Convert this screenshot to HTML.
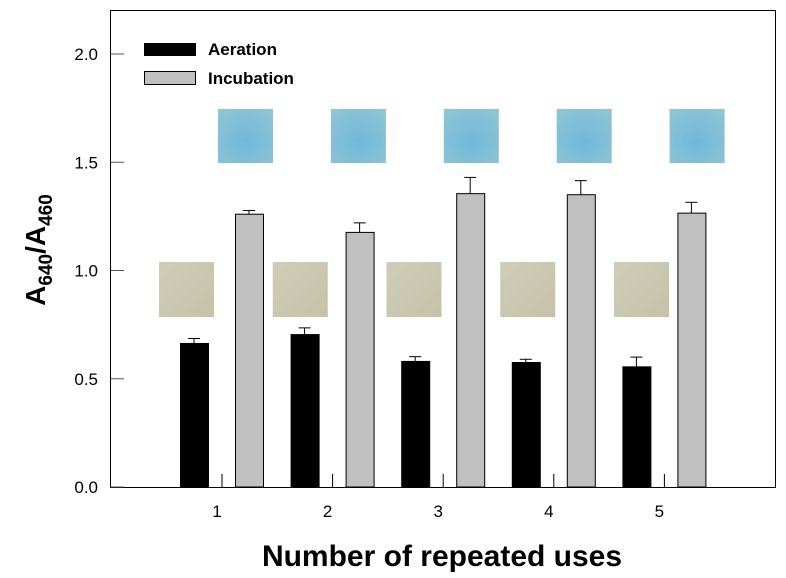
<!DOCTYPE html>
<html><head><meta charset="utf-8">
<style>
body{margin:0;background:#fff;}
svg{display:block;font-family:"Liberation Sans",Arial,sans-serif;}
</style></head>
<body>
<svg id="chart" width="786" height="578" viewBox="0 0 786 578" xmlns="http://www.w3.org/2000/svg">
<defs>
<linearGradient id="tan" x1="0" y1="0" x2="1" y2="1"><stop offset="0" stop-color="#cfcdb8"/><stop offset="1" stop-color="#c6c2a8"/></linearGradient>
<radialGradient id="blue" cx="0.5" cy="0.6" r="0.7"><stop offset="0" stop-color="#70b8d8"/><stop offset="1" stop-color="#8ec4d6"/></radialGradient>
</defs>
<rect x="110.5" y="10.5" width="665" height="477" fill="none" stroke="#000" stroke-width="1"/>
<g id="yaxis"></g>
<g id="xaxis"></g>
<g id="photos"></g>
<g id="bars"></g>
<text transform="translate(45,250) rotate(-90)" text-anchor="middle" font-size="28" font-weight="bold">A<tspan font-size="19" dy="7">640</tspan><tspan dy="-7">/A</tspan><tspan font-size="19" dy="7">460</tspan></text>
<text x="442" y="566" text-anchor="middle" font-size="30" font-weight="bold">Number of repeated uses</text>
<g>
<rect x="144.5" y="43.5" width="51" height="12" fill="#000" stroke="#000"/>
<text x="208" y="55" font-size="17" font-weight="bold">Aeration</text>
<rect x="144.5" y="71.5" width="51" height="13" fill="#c0c0c0" stroke="#000"/>
<text x="208" y="84" font-size="17" font-weight="bold">Incubation</text>
</g>
</svg>
<script>
const categories = ["1","2","3","4","5"];
const aeration = [0.663, 0.704, 0.580, 0.575, 0.555];
const aerationErr = [0.023, 0.031, 0.022, 0.015, 0.045];
const incubation = [1.260, 1.176, 1.355, 1.350, 1.265];
const incubationErr = [0.017, 0.044, 0.075, 0.065, 0.050];
const yTicks = [0, 0.5, 1.0, 1.5, 2.0];
const yTickLabels = ["0.0","0.5","1.0","1.5","2.0"];

const NS = "http://www.w3.org/2000/svg";
const y = v => 487 - v * 216.5;
const x = i => 222 + i * 110.6;
function mk(tag, attrs, parent){const e=document.createElementNS(NS,tag);for(const k in attrs)e.setAttribute(k,attrs[k]);parent.appendChild(e);return e;}
const yg=document.getElementById('yaxis'), xg=document.getElementById('xaxis'), bg=document.getElementById('bars'), pg=document.getElementById('photos');
yTicks.forEach((t,i)=>{
  const l=mk('line',{x1:110.5,x2:124,y1:y(t),y2:y(t),stroke:'#555','stroke-width':1},yg);
  
  
  const tx=mk('text',{x:98,y:y(t)+6,'text-anchor':'end','font-size':17},yg);
  tx.textContent=yTickLabels[i];
  
  
});
categories.forEach((c,i)=>{
  const cx=x(i);
  const l=mk('line',{x1:cx,x2:cx,y1:487,y2:474,stroke:'#000','stroke-width':1},xg);
  
  
  const tx=mk('text',{x:cx-5,y:517,'text-anchor':'middle','font-size':17},xg);
  tx.textContent=c;
  
  
  const p1=mk('rect',{x:159+i*113.75,y:262,width:55,height:55,fill:'url(#tan)'},pg);
  
  
  const p2=mk('rect',{x:218+i*112.9,y:109,width:55,height:54,fill:'url(#blue)'},pg);
  
  
  [[aeration,aerationErr,cx-42,'#000','bar-aeration'],[incubation,incubationErr,cx+13,'#c0c0c0','bar-incubation']].forEach(([vals,errs,bx,fill,name])=>{
    const v=vals[i], e=errs[i];
    const top=y(v+e), bc=bx+14;
    const el=mk('line',{x1:bc,x2:bc,y1:top,y2:y(v),stroke:'#000','stroke-width':1},bg);
    
    
    const cap=mk('line',{x1:bc-6,x2:bc+6,y1:top,y2:top,stroke:'#000','stroke-width':1},bg);
    
    
    const r=mk('rect',{x:bx+0.5,y:y(v),width:28,height:487-y(v),fill:fill,stroke:'#000','stroke-width':1},bg);
    
    
  });
});
</script>
</body></html>
